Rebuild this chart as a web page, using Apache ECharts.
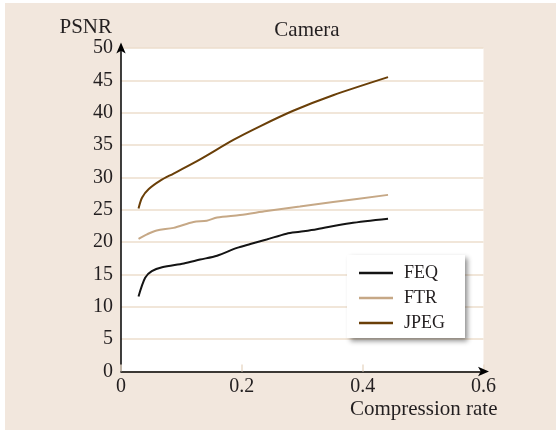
<!DOCTYPE html>
<html>
<head>
<meta charset="utf-8">
<script src="https://cdn.jsdelivr.net/npm/echarts@6/dist/echarts.min.js"></script>
<style>
html,body{margin:0;padding:0;background:#ffffff;width:556px;height:430px;overflow:hidden;}
#bg{position:absolute;left:5px;top:3px;width:551px;height:427px;background:#f2e7dd;}
#chart{position:absolute;left:0;top:0;width:556px;height:430px;}
</style>
</head>
<body>
<div id="bg"></div>
<div id="chart"></div>
<script>
var titleText = 'Camera';
var xName = 'Compression rate';
var yName = 'PSNR';
var seriesNames = ['FEQ', 'FTR', 'JPEG'];

var feqX = [0.029, 0.040, 0.051, 0.068, 0.104, 0.131, 0.159, 0.192, 0.214, 0.241, 0.274, 0.296, 0.324, 0.379, 0.442];
var feqY = [11.6, 14.5, 15.5, 16.1, 16.7, 17.3, 17.9, 19.1, 19.7, 20.4, 21.3, 21.6, 22.0, 22.9, 23.6];

var ftrX = [0.029, 0.043, 0.059, 0.087, 0.120, 0.142, 0.159, 0.197, 0.241, 0.296, 0.351, 0.442];
var ftrY = [20.5, 21.2, 21.8, 22.2, 23.1, 23.3, 23.8, 24.2, 24.8, 25.5, 26.2, 27.3];

var jpegX = [0.029, 0.035, 0.046, 0.065, 0.087, 0.131, 0.186, 0.230, 0.285, 0.351, 0.442];
var jpegY = [25.2, 26.9, 28.2, 29.5, 30.6, 32.8, 35.8, 37.9, 40.3, 42.7, 45.5];

var xTicks = [0, 0.2, 0.4, 0.6];
var yTicks = [0, 5, 10, 15, 20, 25, 30, 35, 40, 45, 50];

function pairs(xs, ys) { return xs.map(function (x, i) { return [x, ys[i]]; }); }

var FONT = '"Liberation Serif", "DejaVu Serif", serif';
var colors = ['#141414', '#c6a886', '#6a3f08'];

var chart = echarts.init(document.getElementById('chart'), null, {renderer: 'canvas'});
chart.setOption({
  backgroundColor: 'transparent',
  animation: false,
  title: {
    text: titleText,
    left: 302, top: 15, textAlign: 'center',
    textStyle: {fontFamily: FONT, fontSize: 21, fontWeight: 'normal', color: '#231f20'}
  },
  grid: {
    left: 121, top: 48, right: 72.5, bottom: 58.5,
    show: true, backgroundColor: '#ffffff', borderWidth: 0
  },
  legend: {
    data: seriesNames.map(function (n) { return {name: n, icon: 'rect'}; }),
    orient: 'vertical',
    left: 347, top: 255,
    backgroundColor: '#ffffff',
    borderWidth: 0,
    shadowColor: 'rgba(0,0,0,0.45)',
    shadowBlur: 5,
    shadowOffsetX: 3,
    shadowOffsetY: 3,
    padding: [9, 20, 6, 12],
    itemWidth: 34, itemHeight: 2.5, itemGap: 7,
    textStyle: {fontFamily: FONT, fontSize: 18, lineHeight: 14, color: '#231f20', padding: [0, 0, 0, 6]}
  },
  xAxis: {
    type: 'value', min: 0, max: 0.6, interval: 0.2,
    name: xName, nameLocation: 'end', nameGap: 14,
    nameTextStyle: {fontFamily: FONT, fontSize: 21, color: '#231f20', align: 'right', verticalAlign: 'top', padding: [27, 0, 0, 0]},
    axisLine: {show: true, lineStyle: {color: '#000', width: 1.5}, symbol: ['none', 'arrow'], symbolSize: [7, 11], symbolOffset: [0, 5.5]},
    axisTick: {show: true, inside: true, length: 7, lineStyle: {color: '#eadbca', width: 1.5}},
    axisLabel: {fontFamily: FONT, fontSize: 20, color: '#231f20', margin: 5,
      formatter: function (v) { var i = xTicks.indexOf(Math.round(v * 10) / 10); return i >= 0 ? String(xTicks[i]) : ''; }},
    splitLine: {show: false}
  },
  yAxis: {
    type: 'value', min: 0, max: 50, interval: 5,
    name: yName, nameLocation: 'end', nameGap: 21,
    nameTextStyle: {fontFamily: FONT, fontSize: 21, color: '#231f20', align: 'right', verticalAlign: 'middle', padding: [0, 9, 0, 0]},
    axisLine: {show: true, lineStyle: {color: '#000', width: 1.5}, symbol: ['none', 'arrow'], symbolSize: [7, 11], symbolOffset: [0, 5.5]},
    axisTick: {show: false},
    axisLabel: {fontFamily: FONT, fontSize: 20, color: '#231f20', margin: 8,
      formatter: function (v) { return yTicks.indexOf(v) >= 0 ? String(v) : ''; }},
    splitLine: {show: true, lineStyle: {color: '#eddecd', width: 1.5}}
  },
  series: [
    {name: seriesNames[0], type: 'line', data: pairs(feqX, feqY), symbol: 'none', smooth: 0.3,
      lineStyle: {color: colors[0], width: 2}, itemStyle: {color: colors[0]}},
    {name: seriesNames[1], type: 'line', data: pairs(ftrX, ftrY), symbol: 'none', smooth: 0.3,
      lineStyle: {color: colors[1], width: 2}, itemStyle: {color: colors[1]}},
    {name: seriesNames[2], type: 'line', data: pairs(jpegX, jpegY), symbol: 'none', smooth: 0.3,
      lineStyle: {color: colors[2], width: 2}, itemStyle: {color: colors[2]}}
  ]
});
</script>
</body>
</html>
